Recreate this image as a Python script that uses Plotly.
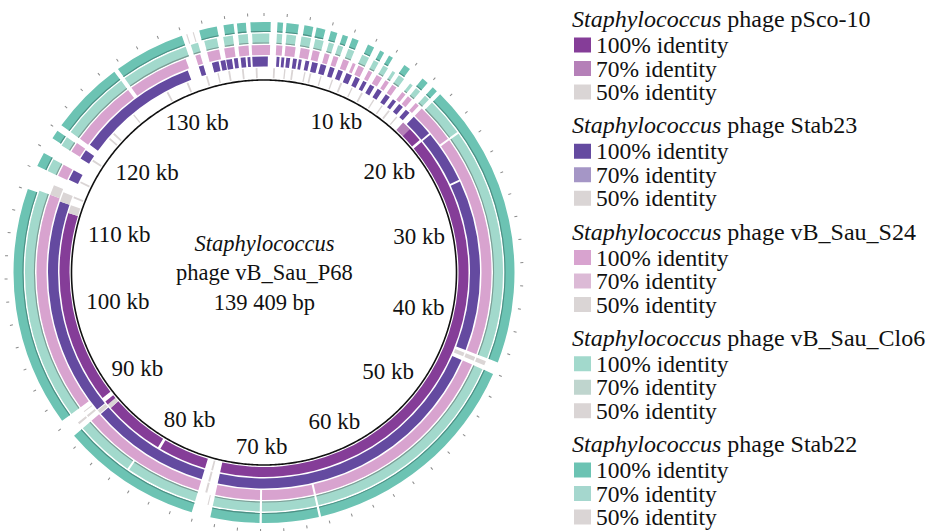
import plotly.graph_objects as go
import numpy as np

# ---------------- data ----------------
GENOME_KB = 139.409
center_lines = ["<i>Staphylococcus</i>", "phage vB_Sau_P68", "139 409 bp"]
kb_label_values = [10, 20, 30, 40, 50, 60, 70, 80, 90, 100, 110, 120, 130]
outer_tick_kb = list(range(0, 140, 2))

ring_names = ["pSco-10", "Stab23", "vB_Sau_S24", "vB_Sau_Clo6", "Stab22"]
identity_levels = [100, 70, 50]

# (start kb, end kb, identity %)
pSco10_segments = [
    (16.6, 17.6, 70), (17.6, 19.2, 100), (19.5, 74.5, 100), (75.3, 75.5, 50),
    (76.2, 81.5, 100), (81.8, 88.5, 100), (88.5, 89.0, 50), (89.0, 89.4, 100),
    (89.9, 111.1, 100), (111.1, 112.0, 50), (112.8, 113.0, 50), (114.6, 114.8, 50),
    (117.3, 117.5, 50), (120.3, 120.5, 50), (121.0, 121.2, 50), (124.0, 124.15, 50),
    (128.4, 128.6, 50), (130.8, 131.0, 50), (133.0, 133.2, 50), (134.3, 134.45, 50),
    (135.5, 135.7, 50), (137.0, 137.2, 50), (138.5, 138.7, 50), (1.0, 1.2, 50),
    (2.2, 2.35, 50), (3.0, 3.2, 50), (4.4, 4.55, 50), (5.0, 5.2, 50), (6.2, 6.35, 50),
    (7.5, 7.65, 50), (8.5, 8.7, 50), (9.8, 9.95, 50), (11.0, 11.2, 50), (12.5, 12.65, 50),
    (13.6, 13.75, 50), (14.5, 14.7, 50), (15.6, 15.75, 50),
]
Stab23_segments = [
    (132.6, 133.1, 100), (134.0, 134.7, 100), (134.9, 135.4, 100), (135.5, 136.1, 100),
    (136.3, 136.7, 100), (137.0, 137.5, 100), (137.7, 138.0, 100), (138.2, 139.409, 100),
    (0.0, 0.4, 100), (1.3, 1.6, 100), (1.8, 2.1, 100), (2.3, 2.7, 100), (3.0, 3.4, 100),
    (3.6, 3.9, 100), (4.3, 4.7, 100), (5.0, 5.6, 100), (5.9, 6.5, 100), (6.9, 7.4, 100),
    (7.8, 8.3, 100), (8.7, 9.3, 100), (9.7, 10.2, 100), (10.6, 11.0, 100), (11.4, 11.9, 100),
    (12.3, 12.8, 100), (13.3, 13.8, 100), (14.2, 14.6, 100), (15.0, 15.5, 100),
    (15.9, 16.4, 100), (17.0, 19.3, 100), (19.5, 25.0, 100), (25.2, 43.0, 100),
    (43.3, 43.7, 50), (44.1, 74.5, 100), (75.3, 75.5, 50), (76.2, 88.7, 100),
    (88.8, 89.2, 50), (89.3, 112.0, 100), (112.0, 113.0, 50), (114.4, 115.5, 100),
    (116.9, 117.9, 100), (118.6, 131.4, 100),
]
S24_segments = [
    (132.6, 133.1, 100), (133.8, 135.0, 100), (135.5, 136.5, 100), (136.9, 137.9, 100),
    (138.2, 139.409, 100), (0.0, 0.6, 100), (1.2, 1.8, 100), (2.1, 3.1, 100),
    (3.6, 4.5, 100), (4.8, 5.5, 100), (6.0, 6.5, 100), (6.9, 7.4, 100), (7.9, 8.5, 100),
    (8.9, 9.2, 100), (9.5, 10.1, 100), (10.6, 11.0, 100), (11.5, 12.1, 100),
    (12.5, 12.9, 100), (13.3, 13.8, 100), (14.5, 14.9, 100), (15.2, 15.7, 100),
    (16.2, 16.6, 100), (17.0, 20.9, 100), (21.1, 43.0, 100), (43.3, 43.7, 50),
    (44.1, 64.6, 100), (64.8, 69.9, 100), (70.1, 74.5, 100), (75.3, 75.5, 50),
    (76.2, 88.8, 100), (89.3, 89.5, 50), (89.9, 90.0, 50), (90.5, 112.3, 100),
    (112.3, 113.3, 50), (114.3, 115.5, 100), (117.0, 118.0, 100), (118.5, 125.2, 100),
    (125.6, 131.6, 100),
]
Clo6_segments = [
    (132.5, 133.2, 100), (133.8, 135.0, 100), (135.6, 136.5, 100), (137.0, 137.9, 100),
    (138.3, 139.409, 100), (0.0, 0.5, 100), (1.2, 1.7, 100), (2.1, 3.0, 100),
    (3.5, 4.4, 100), (4.8, 5.6, 100), (6.1, 6.6, 100), (7.0, 7.5, 100), (8.0, 8.6, 100),
    (9.4, 10.1, 100), (10.6, 11.1, 100), (11.6, 12.1, 100), (12.6, 12.9, 100),
    (13.3, 13.9, 100), (14.6, 14.9, 100), (15.3, 15.8, 100), (16.4, 16.9, 100),
    (17.3, 20.9, 100), (21.1, 43.0, 100), (43.3, 43.7, 50), (44.1, 64.6, 100),
    (64.8, 69.9, 100), (70.1, 74.5, 100), (74.9, 75.0, 50), (76.2, 83.0, 100),
    (83.2, 88.8, 100), (89.3, 89.5, 50), (90.5, 112.3, 100), (114.3, 115.5, 100),
    (117.0, 117.9, 100), (118.5, 125.2, 100), (125.6, 132.0, 100),
]
Stab22_segments = [
    (132.4, 132.5, 50), (133.0, 133.1, 50), (133.6, 135.2, 100), (135.8, 136.7, 100),
    (137.0, 137.8, 100), (138.2, 139.409, 100), (0.0, 0.6, 100), (1.2, 1.7, 100),
    (2.0, 3.1, 100), (3.6, 4.4, 100), (4.7, 5.5, 100), (6.0, 6.6, 100), (7.1, 7.6, 100),
    (8.0, 8.6, 100), (9.5, 10.1, 100), (10.7, 11.1, 100), (11.6, 12.0, 100),
    (13.2, 13.8, 100), (15.2, 15.8, 100), (16.4, 16.9, 100), (17.3, 43.0, 100),
    (44.1, 64.6, 100), (64.8, 69.9, 100), (70.1, 74.5, 100), (76.2, 88.8, 100),
    (90.5, 112.1, 100), (114.3, 115.6, 100), (117.1, 117.9, 100), (118.5, 125.2, 100),
    (125.6, 132.0, 100),
]
ring_segments = [pSco10_segments, Stab23_segments, S24_segments, Clo6_segments, Stab22_segments]

# ---------------- styles ----------------
colors_100 = ["#853d98", "#644aa0", "#d8a3cf", "#a2d9cc", "#6cc3b3"]
colors_70 = ["#b580b8", "#a596c6", "#dcbad6", "#bfd5ce", "#a5d7ce"]
colors_50 = ["#dad5d5", "#dad5d5", "#dad5d5", "#dad5d5", "#dad5d5"]
edge_colors = [None, None, None, "#7c9c95", "#4d8f84"]
ring_base = [194.5, 206.0, 217.5, 229.0, 240.5]
ring_thick = 10.0
black_r = 192.5
SERIF = "Liberation Serif, Times New Roman, serif"

DEG = 360.0 / GENOME_KB

fig = go.Figure()

# black backbone circle
circ_theta = np.linspace(0, 360, 721)
fig.add_trace(go.Scatterpolar(r=[black_r] * len(circ_theta), theta=circ_theta, mode="lines",
                              line=dict(color="#111111", width=1.6), hoverinfo="skip",
                              showlegend=False))

for i, segs in enumerate(ring_segments):
    cmap = {100: colors_100[i], 70: colors_70[i], 50: colors_50[i]}
    th = [(s + e) / 2 * DEG for s, e, _ in segs]
    wd = [(e - s) * DEG for s, e, _ in segs]
    cols = [cmap[v] for _, _, v in segs]
    fig.add_trace(go.Barpolar(theta=th, width=wd, r=[ring_thick] * len(segs),
                              base=[ring_base[i]] * len(segs),
                              marker=dict(color=cols, line=dict(width=0)),
                              hoverinfo="skip", showlegend=False))
    if edge_colors[i]:
        strong = [(s, e) for s, e, v in segs if v >= 70]
        fig.add_trace(go.Barpolar(theta=[(s + e) / 2 * DEG for s, e in strong],
                                  width=[(e - s) * DEG for s, e in strong],
                                  r=[1.1] * len(strong), base=[ring_base[i]] * len(strong),
                                  marker=dict(color=edge_colors[i], line=dict(width=0)),
                                  hoverinfo="skip", showlegend=False))

# kb labels inside the backbone
lab_r, lab_t, lab_txt = [], [], []
for v in kb_label_values:
    t = np.radians(v * DEG)
    txt = f"{v} kb"
    half_w = 6.0 + 10.0 * (len(txt) - 3)
    lab_r.append(186.5 - (half_w * abs(np.sin(t)) + 10.0 * abs(np.cos(t))))
    lab_t.append(v * DEG)
    lab_txt.append(txt)
fig.add_trace(go.Scatterpolar(r=lab_r, theta=lab_t, text=lab_txt, mode="text",
                              textposition="middle center",
                              textfont=dict(family=SERIF, size=23, color="#111111"),
                              hoverinfo="skip", showlegend=False))

W, H = 932, 531
cx, cy = 264.0, 272.5
R = 256.0
fig.update_layout(
    width=W, height=H, margin=dict(l=0, r=0, t=0, b=0),
    paper_bgcolor="white", plot_bgcolor="white", showlegend=False,
    polar=dict(
        domain=dict(x=[(cx - R) / W, (cx + R) / W], y=[(H - cy - R) / H, (H - cy + R) / H]),
        bgcolor="white", bargap=0, hole=0,
        radialaxis=dict(range=[0, R], visible=False),
        angularaxis=dict(rotation=90, direction="clockwise", showgrid=False,
                         showticklabels=False, showline=False, ticks="outside",
                         ticklen=3, tickwidth=1, tickcolor="#8a8a8a",
                         tickmode="array", tickvals=[k * DEG for k in outer_tick_kb]),
    ),
)

# centre title
fig.add_annotation(x=cx / W, y=1 - cy / H, xref="paper", yref="paper",
                   text="<br>".join(center_lines), showarrow=False,
                   font=dict(family=SERIF, size=22.5, color="#111111"),
                   xanchor="center", yanchor="middle", align="center")

# legend (drawn as shapes + text)
leg_x_sq, leg_x_txt = 574, 595
for k, name in enumerate(ring_names):
    ty = 19 + 106.25 * k
    fig.add_annotation(x=571 / W, y=1 - ty / H, xref="paper", yref="paper",
                       text=f"<i>Staphylococcus</i> phage {name}", showarrow=False,
                       xanchor="left", yanchor="middle", borderpad=0,
                       font=dict(family=SERIF, size=24, color="#111111"))
    for j, (lev, col) in enumerate(zip(identity_levels, [colors_100[k], colors_70[k], colors_50[k]])):
        iy = ty + [26, 49.5, 73][j]
        fig.add_shape(type="rect", xref="paper", yref="paper",
                      x0=leg_x_sq / W, x1=(leg_x_sq + 17) / W,
                      y0=1 - (iy - 7.5) / H, y1=1 - (iy + 7.5) / H,
                      fillcolor=col, line=dict(width=0))
        fig.add_annotation(x=leg_x_txt / W, y=1 - iy / H, xref="paper", yref="paper",
                           text=f"{lev}% identity", showarrow=False,
                           xanchor="left", yanchor="middle", borderpad=0,
                           font=dict(family=SERIF, size=23.5, color="#111111"))

fig.write_html("out.html", config={"displayModeBar": False},
               post_script="document.body.style.margin='0';document.body.style.padding='0';")
